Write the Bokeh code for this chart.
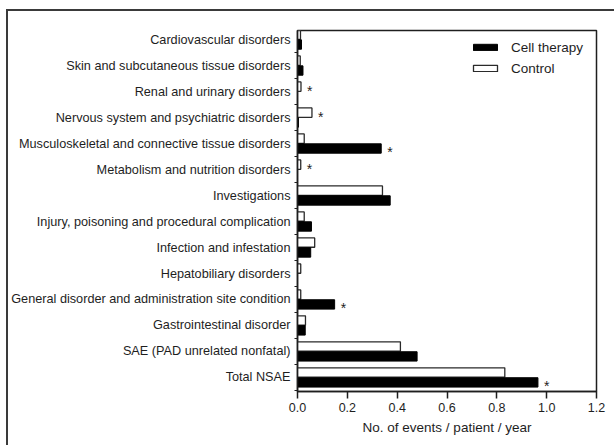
from bokeh.plotting import figure
from bokeh.models import (ColumnDataSource, FixedTicker, Range1d, Legend,
                          LegendItem, NumeralTickFormatter)
from bokeh.embed import file_html
from bokeh.resources import INLINE
from bokeh.core.properties import value

# Adverse event categories, listed top to bottom
categories = [
    "Cardiovascular disorders",
    "Skin and subcutaneous tissue disorders",
    "Renal and urinary disorders",
    "Nervous system and psychiatric disorders",
    "Musculoskeletal and connective tissue disorders",
    "Metabolism and nutrition disorders",
    "Investigations",
    "Injury, poisoning and procedural complication",
    "Infection and infestation",
    "Hepatobiliary disorders",
    "General disorder and administration site condition",
    "Gastrointestinal disorder",
    "SAE (PAD unrelated nonfatal)",
    "Total NSAE",
]

# Events per patient per year
control = [0.012, 0.011, 0.014, 0.058, 0.027, 0.013, 0.341,
           0.027, 0.069, 0.013, 0.013, 0.032, 0.413, 0.832]
cell_therapy = [0.016, 0.022, 0.0, 0.004, 0.336, 0.0, 0.372,
                0.056, 0.053, 0.0, 0.149, 0.031, 0.480, 0.965]

# Significant differences: (category, group whose bar carries the asterisk)
starred = [
    ("Renal and urinary disorders", "Control"),
    ("Nervous system and psychiatric disorders", "Control"),
    ("Musculoskeletal and connective tissue disorders", "Cell therapy"),
    ("Metabolism and nutrition disorders", "Control"),
    ("General disorder and administration site condition", "Cell therapy"),
    ("Total NSAE", "Cell therapy"),
]

x_ticks = [0.0, 0.2, 0.4, 0.6, 0.8, 1.0, 1.2]
x_title = "No. of events / patient / year"

FONT = "Liberation Sans"
INK = "#1e1e1e"

n = len(categories)
pos = [n - 1 - i for i in range(n)]          # Total NSAE at the bottom
shift = 0.19
bar_h = 0.36

src = ColumnDataSource(dict(
    cat=categories,
    y_ctrl=[k + shift for k in pos],
    y_cell=[k - shift for k in pos],
    control=control,
    cell=cell_therapy,
))

p = figure(width=608, height=436,
           x_range=Range1d(0, 1.2), y_range=Range1d(-0.54, 13.35),
           output_backend="svg", toolbar_location=None,
           min_border_left=288, min_border_right=20,
           min_border_top=19, min_border_bottom=56,
           styles={"margin-left": "6px", "margin-top": "9px",
                   "border-left": "2px solid #3a3a3a",
                   "border-top": "2px solid #3a3a3a"})

p.grid.visible = False
p.outline_line_color = INK
p.outline_line_width = 1.5
p.background_fill_color = "white"
p.border_fill_color = "white"

r_ctrl = p.hbar(y="y_ctrl", right="control", left=0, height=bar_h, source=src,
                fill_color="white", line_color="#2a2a2a", line_width=1.3)
r_cell = p.hbar(y="y_cell", right="cell", left=0, height=bar_h, source=src,
                fill_color="black", line_color="black", line_width=1)

# asterisks beside the significant bars
lookup = {c: i for i, c in enumerate(categories)}
star_x, star_y = [], []
for cat, grp in starred:
    i = lookup[cat]
    if grp == "Control":
        star_x.append(control[i])
        star_y.append(pos[i] + shift)
    else:
        star_x.append(cell_therapy[i])
        star_y.append(pos[i] - shift)
p.text(x=star_x, y=star_y, text=["*"] * len(star_x), text_align="left",
       text_baseline="middle", x_offset=6, y_offset=4,
       text_font=value(FONT), text_font_size="14px", text_color=INK)

# x axis
xa = p.xaxis[0]
xa.ticker = FixedTicker(ticks=x_ticks)
xa.formatter = NumeralTickFormatter(format="0.0")
xa.axis_label = x_title
xa.axis_label_text_font = FONT
xa.axis_label_text_font_size = "13.5px"
xa.axis_label_text_font_style = "normal"
xa.axis_label_text_color = INK
xa.axis_label_standoff = 5
xa.major_label_text_font = FONT
xa.major_label_text_font_size = "12.5px"
xa.major_label_text_color = INK
xa.major_label_standoff = 4
xa.major_tick_out = 7
xa.major_tick_in = 0
xa.minor_tick_out = 0
xa.minor_tick_in = 0
xa.axis_line_color = INK
xa.axis_line_width = 1.5
xa.major_tick_line_color = INK
xa.major_tick_line_width = 1.5

# y axis: category names at group centres, small ticks between groups
ya = p.yaxis[0]
ya.ticker = FixedTicker(ticks=pos, minor_ticks=[k + 0.5 for k in range(-1, n)])
ya.major_label_overrides = {k: categories[n - 1 - k] for k in range(n)}
ya.major_label_text_font = FONT
ya.major_label_text_font_size = "12.7px"
ya.major_label_text_color = INK
ya.major_label_standoff = 4
ya.major_tick_out = 0
ya.major_tick_in = 0
ya.minor_tick_out = 3
ya.minor_tick_in = 0
ya.minor_tick_line_color = INK
ya.axis_line_color = INK
ya.axis_line_width = 1.5

legend = Legend(items=[LegendItem(label="Cell therapy", renderers=[r_cell]),
                       LegendItem(label="Control", renderers=[r_ctrl])],
                location=(173, 313), orientation="vertical",
                border_line_color=None, background_fill_alpha=0,
                margin=0, padding=0, spacing=1,
                glyph_width=30, glyph_height=8, label_height=20,
                label_standoff=11,
                label_text_font=FONT, label_text_font_size="13.5px",
                label_text_color=INK)
p.add_layout(legend)

open("out.html", "w").write(file_html(p, INLINE))
